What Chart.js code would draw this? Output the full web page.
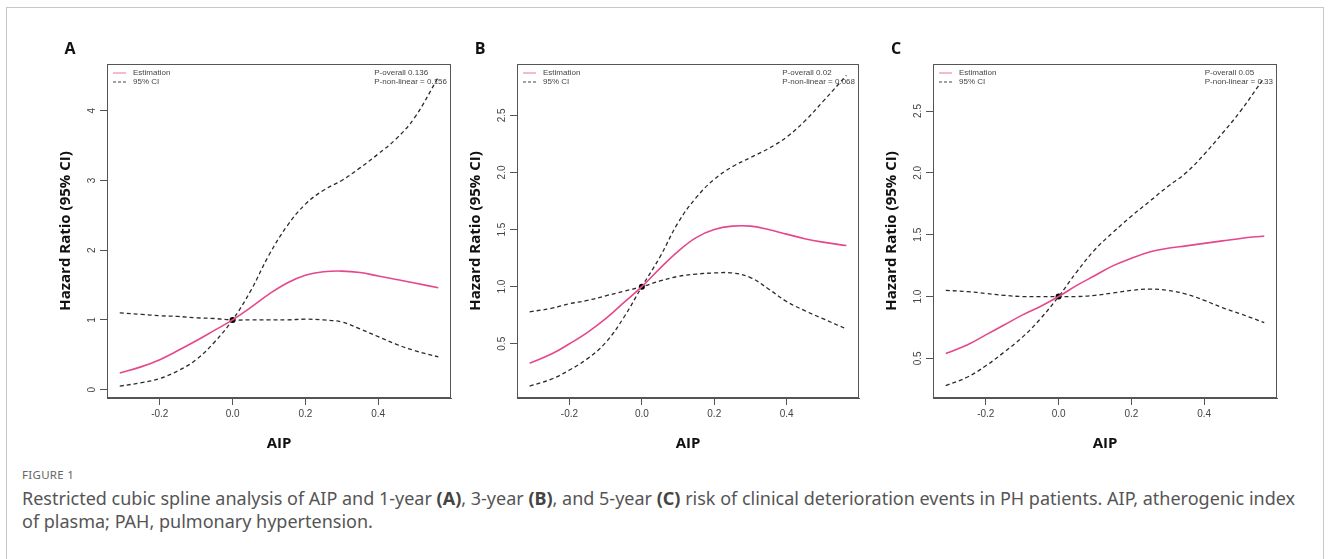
<!DOCTYPE html>
<html><head><meta charset="utf-8">
<script src="https://cdn.jsdelivr.net/npm/chart.js@4.4.1/dist/chart.umd.min.js"></script>
<style>
html,body{margin:0;padding:0;background:#fff;}
body{width:1330px;height:559px;position:relative;overflow:hidden;font-family:"Noto Sans",sans-serif;}
#frame{position:absolute;left:6px;top:7px;width:1316px;height:600px;border:1px solid #c8c8c8;}
canvas{position:absolute;top:0;}
#fig{position:absolute;left:22px;top:467px;font-size:11.5px;color:#666;letter-spacing:0.3px;}
#cap{position:absolute;left:22px;top:487px;font-size:18px;line-height:23px;color:#555;white-space:nowrap;}
#cap b{color:#444;}
</style></head><body>
<div id="frame"></div>
<canvas id="cA" width="455" height="460" style="left:0px"></canvas>
<canvas id="cB" width="455" height="460" style="left:410px"></canvas>
<canvas id="cC" width="455" height="460" style="left:826px"></canvas>
<div id="fig">FIGURE 1</div>
<div id="cap">Restricted cubic spline analysis of AIP and 1-year <b>(A)</b>, 3-year <b>(B)</b>, and 5-year <b>(C)</b> risk of clinical deterioration events in PH patients. AIP, atherogenic index<br>of plasma; PAH, pulmonary hypertension.</div>
<script>
// ---- data ----
const aip = [-0.31,-0.25,-0.2,-0.15,-0.1,-0.05,0,0.05,0.1,0.15,0.2,0.25,0.3,0.35,0.4,0.45,0.5,0.565];

const estA   = [0.24,0.33,0.43,0.56,0.70,0.85,1.00,1.18,1.37,1.53,1.64,1.69,1.70,1.68,1.63,1.58,1.53,1.46];
const lowerA = [0.05,0.10,0.16,0.27,0.43,0.68,1.00,1.00,1.00,1.00,1.01,1.00,0.97,0.87,0.76,0.65,0.56,0.47];
const upperA = [1.10,1.08,1.06,1.05,1.03,1.02,1.00,1.42,1.93,2.35,2.66,2.86,3.00,3.18,3.38,3.60,3.90,4.48];

const estB   = [0.33,0.41,0.50,0.60,0.72,0.86,1.00,1.16,1.31,1.43,1.50,1.53,1.53,1.50,1.46,1.42,1.39,1.36];
const lowerB = [0.13,0.19,0.27,0.37,0.51,0.73,1.00,1.05,1.09,1.11,1.12,1.12,1.08,0.98,0.87,0.79,0.72,0.63];
const upperB = [0.78,0.81,0.85,0.88,0.92,0.96,1.00,1.26,1.56,1.78,1.94,2.05,2.13,2.21,2.31,2.45,2.62,2.85];

const estC   = [0.54,0.61,0.69,0.77,0.85,0.92,1.00,1.09,1.17,1.25,1.31,1.36,1.39,1.41,1.43,1.45,1.47,1.49];
const lowerC = [0.28,0.35,0.44,0.55,0.67,0.82,1.00,1.00,1.01,1.03,1.05,1.06,1.05,1.02,0.97,0.91,0.86,0.79];
const upperC = [1.05,1.04,1.025,1.01,1.00,1.00,1.00,1.20,1.38,1.52,1.65,1.77,1.89,2.00,2.15,2.32,2.50,2.77];

const refPoint = {x:0, y:1};

const xTicks = [-0.2,0,0.2,0.4];
const xTickLabels = ['-0.2','0.0','0.2','0.4'];
const yTicksA = [0,1,2,3,4];
const yTickLabelsA = ['0','1','2','3','4'];
const yTicksBC = [0.5,1,1.5,2,2.5];
const yTickLabelsBC = ['0.5','1.0','1.5','2.0','2.5'];

const panelLetters = ['A','B','C'];
const pOverall = ['0.136','0.02','0.05'];
const pNonLinear = ['0.156','0.068','0.33'];
const legendLabels = ['Estimation','95% CI'];
const xTitle = 'AIP';
const yTitle = 'Hazard Ratio (95% CI)';

// ---- drawing ----
const PINK = '#e6478a';
const DASH = '#2b2b2b';

const deco = {
  id: 'deco',
  afterDraw(chart, args, o) {
    const ctx = chart.ctx, a = chart.chartArea, ys = chart.scales.y;
    ctx.save();
    ctx.strokeStyle = '#555'; ctx.lineWidth = 1;
    ctx.strokeRect(Math.round(a.left)+0.5, Math.round(a.top)+0.5, Math.round(a.right-a.left)-1, Math.round(a.bottom-a.top)-1);
    ctx.fillStyle = '#444'; ctx.font = '10px "Liberation Sans"';
    ctx.textAlign = 'center'; ctx.textBaseline = 'middle';
    o.yTicks.forEach((v, i) => {
      const py = ys.getPixelForValue(v);
      ctx.save(); ctx.translate(a.left - 15, py); ctx.rotate(-Math.PI/2);
      ctx.fillText(o.yLabels[i], 0, 0); ctx.restore();
    });
    ctx.fillStyle = '#111'; ctx.font = 'bold 15px "Open Sans"';
    ctx.save(); ctx.translate(a.left - 41, (a.top + a.bottom)/2); ctx.rotate(-Math.PI/2);
    ctx.fillText(yTitle, 0, 0); ctx.restore();
    ctx.fillText(xTitle, (a.left + a.right)/2, 444);
    ctx.font = 'bold 16px "Open Sans"'; ctx.fillStyle = '#111';
    ctx.fillText(o.letter, a.left - 37, 49);
    ctx.font = '8px "Liberation Sans"'; ctx.fillStyle = '#444';
    ctx.textAlign = 'left';
    ctx.strokeStyle = '#f2a2c2'; ctx.lineWidth = 1.5; ctx.setLineDash([]);
    ctx.beginPath(); ctx.moveTo(a.left+6, a.top+9); ctx.lineTo(a.left+19, a.top+9); ctx.stroke();
    ctx.strokeStyle = '#444'; ctx.lineWidth = 1; ctx.setLineDash([3,2]);
    ctx.beginPath(); ctx.moveTo(a.left+6, a.top+18); ctx.lineTo(a.left+19, a.top+18); ctx.stroke();
    ctx.setLineDash([]);
    ctx.fillText(legendLabels[0], a.left+26, a.top+9);
    ctx.fillText(legendLabels[1], a.left+26, a.top+18);
    const l1 = 'P-overall ' + o.pO, l2 = 'P-non-linear = ' + o.pN;
    const w = Math.max(ctx.measureText(l1).width, ctx.measureText(l2).width);
    const px = a.right - 4 - w;
    ctx.fillText(l1, px, a.top+9);
    ctx.fillText(l2, px, a.top+18);
    ctx.restore();
  }
};

function makePanel(id, est, lower, upper, yMin, yMax, yTicks, yLabels, k, rightPad) {
  const pts = arr => aip.map((x, i) => ({x, y: arr[i]}));
  const ciCross1 = aip.map((x, i) => ({x, y: x <= 0 ? lower[i] : upper[i]}));
  const ciCross2 = aip.map((x, i) => ({x, y: x <= 0 ? upper[i] : lower[i]}));
  const line = {pointRadius: 0, tension: 0.4, cubicInterpolationMode: 'default', fill: false};
  new Chart(document.getElementById(id), {
    type: 'line',
    data: {
      datasets: [
        Object.assign({label: legendLabels[0], data: pts(est), borderColor: PINK, borderWidth: 1.6}, line),
        Object.assign({label: legendLabels[1], data: ciCross1, borderColor: DASH, borderWidth: 1.3, borderDash: [4,3]}, line),
        Object.assign({label: legendLabels[1], data: ciCross2, borderColor: DASH, borderWidth: 1.3, borderDash: [4,3]}, line),
        {label: 'ref', data: [refPoint], showLine: false, pointRadius: 3, pointBackgroundColor: '#000', pointBorderColor: '#000', borderWidth: 0}
      ]
    },
    options: {
      responsive: false, animation: false, events: [],
      layout: {padding: {left: 0, top: 64, right: rightPad, bottom: 0}},
      plugins: {legend: {display: false}, tooltip: {enabled: false},
        deco: {yTicks, yLabels, letter: panelLetters[k], pO: pOverall[k], pN: pNonLinear[k]}},
      scales: {
        x: {type: 'linear', min: -0.345, max: 0.6,
          afterBuildTicks: s => { s.ticks = xTicks.map(v => ({value: v})); },
          afterFit: s => { s.height = 62; },
          grid: {display: true, drawOnChartArea: false, drawTicks: true, tickLength: 7, color: '#555'},
          border: {display: true, color: '#555'},
          ticks: {padding: 3, color: '#444', font: {family: 'Liberation Sans', size: 10},
            maxRotation: 0, callback: v => xTickLabels[xTicks.indexOf(v)]}},
        y: {type: 'linear', min: yMin, max: yMax,
          afterBuildTicks: s => { s.ticks = yTicks.map(v => ({value: v})); },
          afterFit: s => { s.width = 107; },
          grid: {display: true, drawOnChartArea: false, drawTicks: true, tickLength: 7, color: '#555'},
          border: {display: true, color: '#555'},
          ticks: {display: false}}
      }
    },
    plugins: [deco]
  });
}

makePanel('cA', estA, lowerA, upperA, -0.12, 4.67, yTicksA, yTickLabelsA, 0, 4);
makePanel('cB', estB, lowerB, upperB, 0.025, 2.95, yTicksBC, yTickLabelsBC, 1, 6);
makePanel('cC', estC, lowerC, upperC, 0.18, 2.88, yTicksBC, yTickLabelsBC, 2, 4);
</script>
</body></html>
